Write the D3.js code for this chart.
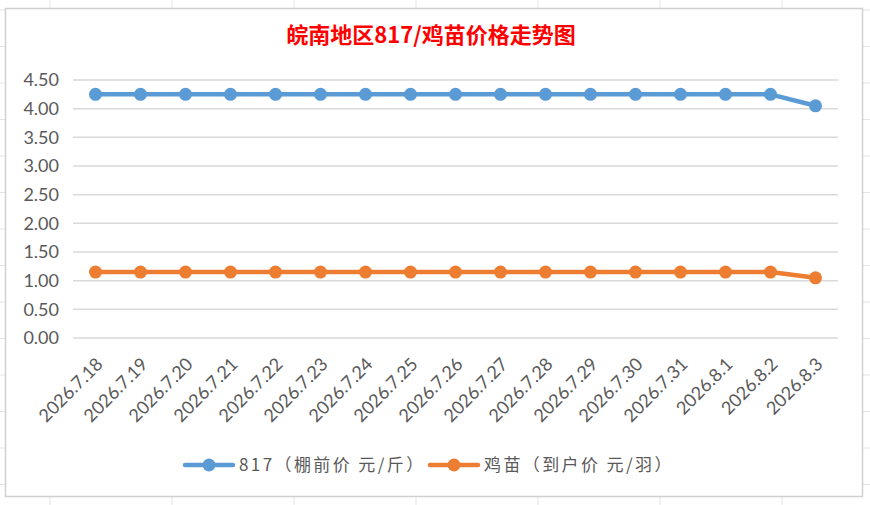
<!DOCTYPE html>
<html>
<head>
<meta charset="utf-8">
<script src="https://cdn.jsdelivr.net/npm/d3@7"></script>
<style>
  html, body { margin: 0; padding: 0; background: #fff; }
  svg { display: block; }
</style>
</head>
<body>
<div id="chart"></div>
<script>
// 数据
const dates = ["2026.7.18", "2026.7.19", "2026.7.20", "2026.7.21", "2026.7.22", "2026.7.23",
  "2026.7.24", "2026.7.25", "2026.7.26", "2026.7.27", "2026.7.28", "2026.7.29", "2026.7.30",
  "2026.7.31", "2026.8.1", "2026.8.2", "2026.8.3"];
const price817 = [4.25, 4.25, 4.25, 4.25, 4.25, 4.25, 4.25, 4.25, 4.25, 4.25, 4.25, 4.25, 4.25, 4.25, 4.25, 4.25, 4.05];
const priceChick = [1.15, 1.15, 1.15, 1.15, 1.15, 1.15, 1.15, 1.15, 1.15, 1.15, 1.15, 1.15, 1.15, 1.15, 1.15, 1.15, 1.05];
const yTicks = [0, 0.5, 1, 1.5, 2, 2.5, 3, 3.5, 4, 4.5];
const seriesNames = ["817（棚前价 元/斤）", "鸡苗（到户价 元/羽）"];
const title = "皖南地区817/鸡苗价格走势图";

const width = 870, height = 505;
const colors = ["#5B9BD5", "#ED7D31"];
const textColor = "#595959";
const gridColor = "#D9D9D9";
const numFont = "Lato, 'Liberation Sans', sans-serif";
const cjkFont = "'Noto Sans CJK SC', sans-serif";

const svg = d3.select("#chart").append("svg")
  .attr("width", width)
  .attr("height", height);

// 背景表格线（Excel 单元格）
const sheet = svg.append("g").attr("stroke", "#E4E4E4").attr("stroke-width", 1);
d3.range(50, width, 122).forEach(x => {
  sheet.append("line").attr("x1", x).attr("x2", x).attr("y1", 0).attr("y2", height);
});
d3.range(10, height, 36.5).forEach(y => {
  sheet.append("line").attr("x1", 0).attr("x2", width).attr("y1", y).attr("y2", y);
});

// 图表区域
svg.append("rect")
  .attr("x", 5.5).attr("y", 8.5)
  .attr("width", 857).attr("height", 488)
  .attr("fill", "#fff")
  .attr("stroke", "#D0D0D0")
  .attr("stroke-width", 1.5);

const plot = { left: 73, right: 838, top: 80, bottom: 338 };

const x = d3.scaleBand()
  .domain(dates)
  .range([plot.left, plot.right]);

const y = d3.scaleLinear()
  .domain([0, 4.5])
  .range([plot.bottom, plot.top]);

// 网格线
svg.append("g")
  .selectAll("line")
  .data(yTicks)
  .join("line")
  .attr("x1", plot.left).attr("x2", plot.right)
  .attr("y1", d => y(d)).attr("y2", d => y(d))
  .attr("stroke", gridColor)
  .attr("stroke-width", 1.5);

// y 轴刻度
const yAxis = d3.axisLeft(y).tickValues(yTicks).tickFormat(d3.format(".2f")).tickSize(0).tickPadding(0);
const yg = svg.append("g").attr("transform", `translate(${plot.left - 14},0)`).call(yAxis);
yg.select(".domain").remove();
yg.selectAll("text")
  .attr("fill", textColor)
  .style("font-family", numFont)
  .style("font-size", "18px");

// x 轴标签
const xAxis = d3.axisBottom(x).tickSize(0).tickPadding(0);
const xg = svg.append("g").attr("transform", `translate(0,${plot.bottom})`).call(xAxis);
xg.select(".domain").remove();
xg.selectAll("text")
  .attr("fill", textColor)
  .style("font-family", numFont)
  .style("font-size", "18px")
  .attr("text-anchor", "end")
  .attr("dy", "0.35em")
  .attr("transform", "translate(4,23) rotate(-45)");

// 折线
const cx = d => x(d) + x.bandwidth() / 2;
const series = [price817, priceChick];
const line = d3.line().x((d, i) => cx(dates[i])).y(d => y(d));

series.forEach((vals, si) => {
  svg.append("path")
    .datum(vals)
    .attr("d", line)
    .attr("fill", "none")
    .attr("stroke", colors[si])
    .attr("stroke-width", 4.5)
    .attr("stroke-linejoin", "round")
    .attr("stroke-linecap", "round");
  svg.append("g")
    .selectAll("circle")
    .data(vals)
    .join("circle")
    .attr("cx", (d, i) => cx(dates[i]))
    .attr("cy", d => y(d))
    .attr("r", 6.5)
    .attr("fill", colors[si]);
});

// 标题
svg.append("text")
  .attr("x", 431).attr("y", 43)
  .attr("text-anchor", "middle")
  .attr("fill", "#FF0000")
  .style("font-family", cjkFont)
  .style("font-weight", "bold")
  .style("font-size", "22px")
  .text(title);

// 图例
const legendPos = [185, 430];
const legendY = 465;
seriesNames.forEach((name, i) => {
  const g = svg.append("g").attr("transform", `translate(${legendPos[i]},${legendY})`);
  g.append("line")
    .attr("x1", 0).attr("x2", 48)
    .attr("stroke", colors[i])
    .attr("stroke-width", 4.5)
    .attr("stroke-linecap", "round");
  g.append("circle").attr("cx", 24).attr("r", 6.5).attr("fill", colors[i]);
  g.append("text")
    .attr("x", 54).attr("dy", "0.35em")
    .attr("fill", textColor)
    .style("font-family", cjkFont)
    .style("font-size", "17px")
    .style("letter-spacing", "2.4px")
    .text(name);
});
</script>
</body>
</html>
